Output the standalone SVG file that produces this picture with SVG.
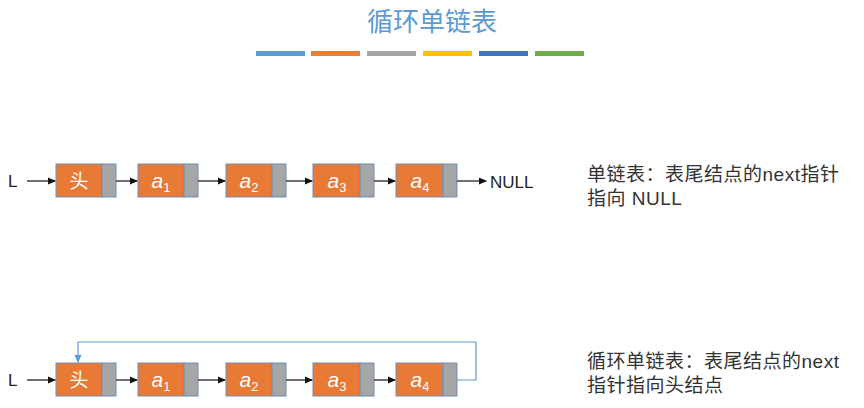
<svg xmlns="http://www.w3.org/2000/svg" width="864" height="408" viewBox="0 0 864 408">
<style>
.d{fill:#E87A36;stroke:#6F8FB5;stroke-width:1}
.p{fill:#A6A6A6;stroke:#6F8FB5;stroke-width:1}
.t{font-family:"Liberation Sans",sans-serif;font-size:17px;fill:#222}
.n{font-family:"Liberation Sans",sans-serif;font-style:italic;font-size:21px;fill:#fff;text-anchor:middle}
.s{font-size:13px;font-style:normal}
.h{font-family:"Noto Sans CJK SC",sans-serif;font-size:19px;fill:#fff;text-anchor:middle}
.c{font-family:"Liberation Sans","Noto Sans CJK SC",sans-serif;font-size:19px;letter-spacing:0.5px;fill:#333}
.a{stroke:#111;stroke-width:1.2;fill:none;marker-end:url(#m)}
</style>
<defs><marker id="m" markerWidth="8" markerHeight="8" refX="7" refY="4" orient="auto" markerUnits="userSpaceOnUse"><path d="M0,0.5 L8,4 L0,7.5z" fill="#111"/></marker>
<marker id="mb" markerWidth="8" markerHeight="8" refX="7" refY="4" orient="auto" markerUnits="userSpaceOnUse"><path d="M0,0.5 L8,4 L0,7.5z" fill="#5B9BD5"/></marker></defs>
<rect width="864" height="408" fill="#fff"/>
<text x="432" y="31" text-anchor="middle" font-family="Noto Sans CJK SC,sans-serif" font-size="26" fill="#5B9BD5">循环单链表</text>
<g><rect x="256" y="51" width="49" height="5" fill="#5B9BD5"/><rect x="311" y="51" width="49" height="5" fill="#ED7D31"/><rect x="367" y="51" width="49" height="5" fill="#A5A5A5"/><rect x="423" y="51" width="49" height="5" fill="#FFC000"/><rect x="479" y="51" width="49" height="5" fill="#4472C4"/><rect x="535" y="51" width="49" height="5" fill="#70AD47"/></g>
<g id="row1">
<text class="t" x="8" y="187">L</text>
<g id="h1"><rect class="d" x="56" y="164" width="46" height="33"/><rect class="p" x="102" y="164" width="14" height="33"/><text class="h" x="79" y="188">头</text></g>
<g id="a1"><rect class="d" x="138" y="164" width="46" height="33"/><rect class="p" x="184" y="164" width="14" height="33"/><text class="n" x="161" y="188">a<tspan class="s" dy="4">1</tspan></text></g>
<g id="a2"><rect class="d" x="226" y="164" width="46" height="33"/><rect class="p" x="272" y="164" width="14" height="33"/><text class="n" x="249" y="188">a<tspan class="s" dy="4">2</tspan></text></g>
<g id="a3"><rect class="d" x="313" y="164" width="47" height="33"/><rect class="p" x="360" y="164" width="14" height="33"/><text class="n" x="337" y="188">a<tspan class="s" dy="4">3</tspan></text></g>
<g id="a4"><rect class="d" x="396" y="164" width="47" height="33"/><rect class="p" x="443" y="164" width="14" height="33"/><text class="n" x="420" y="188">a<tspan class="s" dy="4">4</tspan></text></g>
<text class="t" x="490" y="188">NULL</text>
</g>
<g id="row2">
<text class="t" x="8" y="386">L</text>
<g id="h2"><rect class="d" x="56" y="363" width="46" height="33"/><rect class="p" x="102" y="363" width="14" height="33"/><text class="h" x="79" y="387">头</text></g>
<g id="b1"><rect class="d" x="138" y="363" width="46" height="33"/><rect class="p" x="184" y="363" width="14" height="33"/><text class="n" x="161" y="387">a<tspan class="s" dy="4">1</tspan></text></g>
<g id="b2"><rect class="d" x="226" y="363" width="46" height="33"/><rect class="p" x="272" y="363" width="14" height="33"/><text class="n" x="249" y="387">a<tspan class="s" dy="4">2</tspan></text></g>
<g id="b3"><rect class="d" x="313" y="363" width="47" height="33"/><rect class="p" x="360" y="363" width="14" height="33"/><text class="n" x="337" y="387">a<tspan class="s" dy="4">3</tspan></text></g>
<g id="b4"><rect class="d" x="396" y="363" width="47" height="33"/><rect class="p" x="443" y="363" width="14" height="33"/><text class="n" x="420" y="387">a<tspan class="s" dy="4">4</tspan></text></g>
</g>
<g id="connectors">
<path class="a" d="M27,181H55"/><path class="a" d="M116,181H137"/><path class="a" d="M198,181H225"/><path class="a" d="M286,181H312"/><path class="a" d="M374,181H395"/><path class="a" d="M457,181H486"/>
<path class="a" d="M27,380H55"/><path class="a" d="M116,380H137"/><path class="a" d="M198,380H225"/><path class="a" d="M286,380H312"/><path class="a" d="M374,380H395"/>
<path d="M457,380H476V342H78V362" fill="none" stroke="#5B9BD5" stroke-width="1.2" marker-end="url(#mb)"/>
</g>
<text class="c" x="587" y="181">单链表：表尾结点的next指针</text>
<text class="c" x="587" y="205">指向 NULL</text>
<text class="c" x="587" y="368">循环单链表：表尾结点的next</text>
<text class="c" x="587" y="392">指针指向头结点</text>
</svg>
